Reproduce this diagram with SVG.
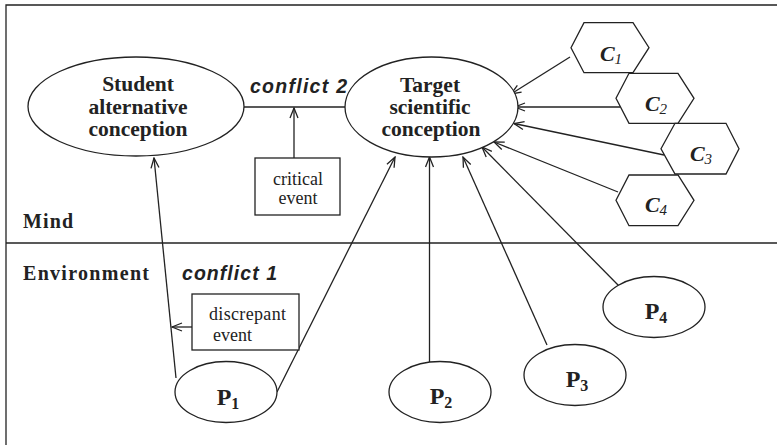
<svg xmlns="http://www.w3.org/2000/svg" width="777" height="445" viewBox="0 0 777 445">
<style>
.ln{fill:none;stroke:#222;stroke-width:1.3}
.sh{fill:#fff;stroke:#222;stroke-width:1.3}
.bt{font-family:"Liberation Serif","Times New Roman",serif;font-weight:bold;font-size:21.5px;fill:#222;text-anchor:middle}
.rt{font-family:"Liberation Serif","Times New Roman",serif;font-size:18px;fill:#222}
.ct{font-family:"Liberation Sans",Arial,sans-serif;font-weight:bold;font-style:italic;font-size:19.5px;fill:#222}
.pt{font-family:"Liberation Serif","Times New Roman",serif;font-weight:bold;font-size:24px;fill:#222;text-anchor:middle}
.cc{font-family:"Liberation Serif","Times New Roman",serif;font-weight:bold;font-style:italic;font-size:22px;fill:#222;text-anchor:middle}
.lb{font-family:"Liberation Serif","Times New Roman",serif;font-weight:bold;font-size:20px;fill:#222}
</style>
<defs>
<marker id="arr" viewBox="0 0 12 10" refX="11" refY="5" markerWidth="12" markerHeight="10" orient="auto" markerUnits="userSpaceOnUse">
<path d="M1,1 L11,5 L1,9" fill="none" stroke="#222" stroke-width="1.3"/>
</marker>
</defs>
<rect width="777" height="445" fill="#fff"/>
<g id="frame">
<path class="ln" d="M6,445 L6,5 L777,5"/>
<line class="ln" x1="6" y1="243" x2="777" y2="243"/>
<text class="lb" x="23" y="228" textLength="50">Mind</text>
<text class="lb" x="23" y="280" textLength="126">Environment</text>
</g>
<g id="connectors">
<line class="ln" x1="244" y1="107" x2="345" y2="107"/>
<line class="ln" x1="294" y1="158" x2="294" y2="108" marker-end="url(#arr)"/>
<line class="ln" x1="176" y1="378" x2="154" y2="158" marker-end="url(#arr)"/>
<line class="ln" x1="192" y1="327" x2="172" y2="327" marker-end="url(#arr)"/>
<line class="ln" x1="277" y1="392" x2="395" y2="157" marker-end="url(#arr)"/>
<line class="ln" x1="429.5" y1="362" x2="429.5" y2="157" marker-end="url(#arr)"/>
<line class="ln" x1="547" y1="345" x2="463" y2="157" marker-end="url(#arr)"/>
<line class="ln" x1="619" y1="286" x2="482" y2="147" marker-end="url(#arr)"/>
<line class="ln" x1="570" y1="57" x2="511" y2="94" marker-end="url(#arr)"/>
<line class="ln" x1="620" y1="107" x2="515" y2="107" marker-end="url(#arr)"/>
<line class="ln" x1="664" y1="155" x2="514" y2="123.5" marker-end="url(#arr)"/>
<line class="ln" x1="618" y1="192" x2="494" y2="142" marker-end="url(#arr)"/>
<text class="ct" x="250" y="93" textLength="97">conflict 2</text>
<text class="ct" x="182" y="280" textLength="95">conflict 1</text>
</g>
<g id="student">
<ellipse class="sh" cx="136" cy="106.5" rx="108" ry="49.5"/>
<text class="bt" x="138" y="91">Student</text>
<text class="bt" x="138" y="113.5">alternative</text>
<text class="bt" x="138" y="136">conception</text>
</g>
<g id="target">
<ellipse class="sh" cx="431.5" cy="107" rx="86.5" ry="50"/>
<text class="bt" x="430" y="92">Target</text>
<text class="bt" x="430" y="114">scientific</text>
<text class="bt" x="431" y="136">conception</text>
</g>
<g id="critical">
<rect class="sh" x="255" y="158" width="85" height="57"/>
<text class="rt" x="298" y="185" text-anchor="middle">critical</text>
<text class="rt" x="298" y="204" text-anchor="middle">event</text>
</g>
<g id="discrepant">
<rect class="sh" x="192" y="294" width="107" height="56"/>
<text class="rt" x="209" y="320" textLength="77">discrepant</text>
<text class="rt" x="213" y="341">event</text>
</g>
<g id="p1">
<ellipse class="sh" cx="226" cy="392" rx="51" ry="30.5"/>
<text class="pt" x="228" y="405">P<tspan font-size="16" dy="4">1</tspan></text>
</g>
<g id="p2">
<ellipse class="sh" cx="440" cy="392" rx="51" ry="30.5"/>
<text class="pt" x="441" y="404">P<tspan font-size="16" dy="4">2</tspan></text>
</g>
<g id="p3">
<ellipse class="sh" cx="575" cy="375" rx="51" ry="30.5"/>
<text class="pt" x="577" y="387">P<tspan font-size="16" dy="4">3</tspan></text>
</g>
<g id="p4">
<ellipse class="sh" cx="654" cy="307" rx="51" ry="30.5"/>
<text class="pt" x="656" y="319">P<tspan font-size="16" dy="4">4</tspan></text>
</g>
<g id="c1">
<polygon class="sh" points="571,47.7 584,22.7 633,22.7 649,47.7 633,72.7 584,72.7"/>
<text class="cc" x="611" y="61">C<tspan font-size="15" font-weight="normal" dy="3">1</tspan></text>
</g>
<g id="c2">
<polygon class="sh" points="616,98.3 629,73.3 678,73.3 694,98.3 678,123.3 629,123.3"/>
<text class="cc" x="656" y="111">C<tspan font-size="15" font-weight="normal" dy="3">2</tspan></text>
</g>
<g id="c3">
<polygon class="sh" points="661,148.7 675,123.3 726,123.3 739,148.7 726,174 675,174"/>
<text class="cc" x="701" y="161">C<tspan font-size="15" font-weight="normal" dy="3">3</tspan></text>
</g>
<g id="c4">
<polygon class="sh" points="616,200.3 629,175 678,175 694,200.3 678,225.7 629,225.7"/>
<text class="cc" x="656" y="212">C<tspan font-size="15" font-weight="normal" dy="3">4</tspan></text>
</g>
</svg>
